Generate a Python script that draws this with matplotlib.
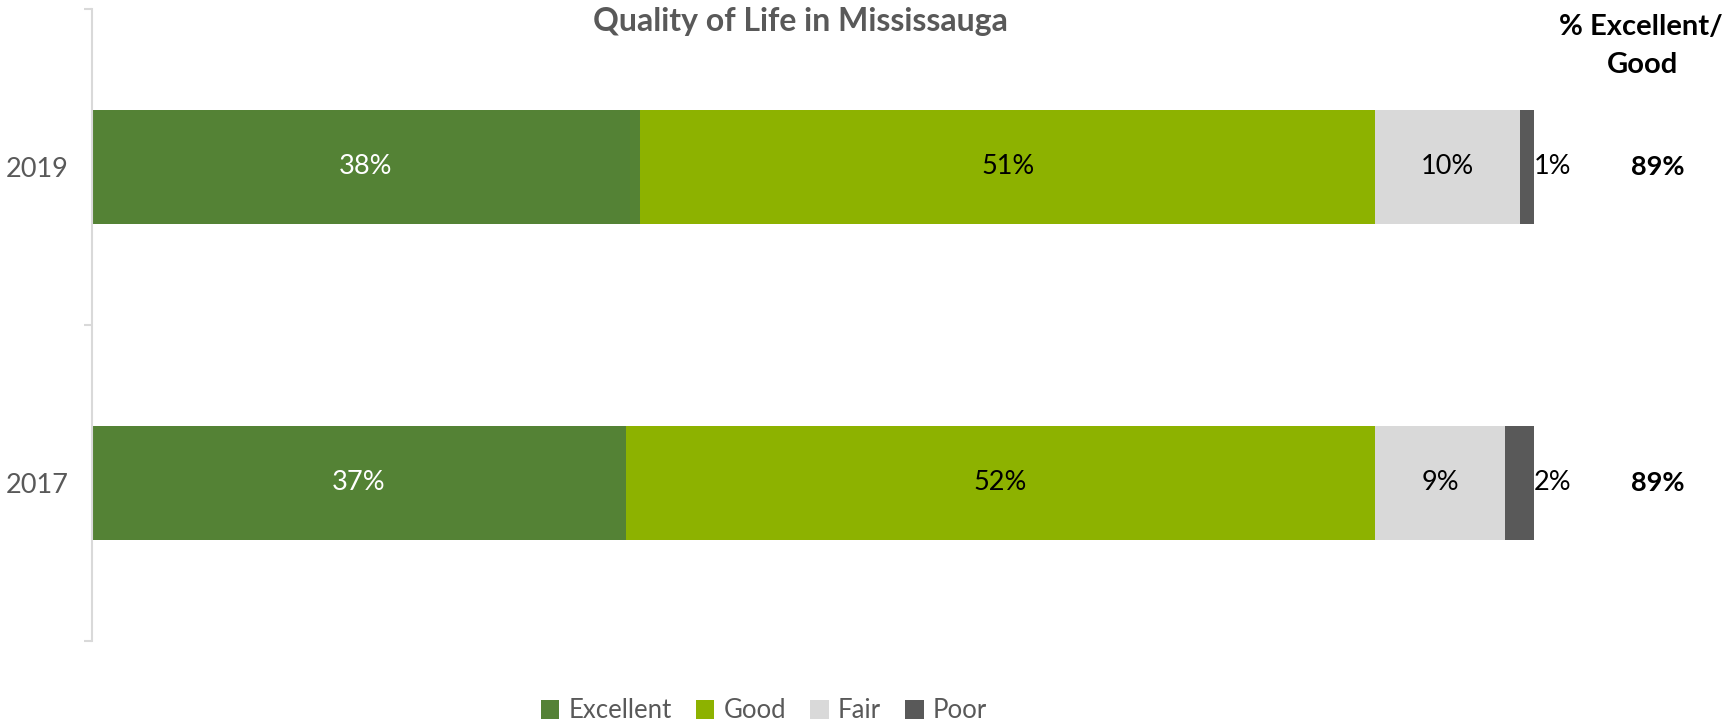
import matplotlib
matplotlib.use("Agg")
import matplotlib.pyplot as plt
import matplotlib.transforms as mtransforms
from matplotlib.patches import Patch

plt.rcParams['font.family'] = ['Lato', 'DejaVu Sans']

years = ["2017", "2019"]
categories = ["Excellent", "Good", "Fair", "Poor"]
excellent = [37, 38]
good = [52, 51]
fair = [9, 10]
poor = [2, 1]
pct_exc_good = ["89%", "89%"]
colors = ["#548235", "#8DB200", "#D9D9D9", "#595959"]
label_colors = ["white", "black", "black", "black"]

W, H = 1729, 725
fig = plt.figure(figsize=(W / 100, H / 100), dpi=100)
ax = fig.add_axes([92 / W, 84 / H, 1442 / W, 632 / H])

series = [excellent, good, fair, poor]
ypos = list(range(len(years)))
left = [0] * len(years)
FS = 19.5
for s, vals in enumerate(series):
    ax.barh(ypos, vals, left=left, height=0.36, color=colors[s],
            label=categories[s], linewidth=0)
    for i, v in enumerate(vals):
        if s == 3:
            ax.text(left[i] + v, ypos[i], f"{v}%", ha="left", va="center",
                    fontsize=FS, color="black")
        else:
            ax.text(left[i] + v / 2, ypos[i], f"{v}%", ha="center", va="center",
                    fontsize=FS, color=label_colors[s])
    left = [l + v for l, v in zip(left, vals)]

ax.set_xlim(0, 100)
ax.set_ylim(-0.5, 1.5)
ax.set_yticks(ypos)
ax.set_yticklabels(years, fontsize=FS, color="#595959")
ax.tick_params(axis="y", which="major", length=0, pad=17)
ax.set_yticks([-0.5, 0.5, 1.5], minor=True)
ax.tick_params(axis="y", which="minor", length=6, color="#D9D9D9", width=1.5)
ax.set_xticks([])
for sp in ["top", "right", "bottom"]:
    ax.spines[sp].set_visible(False)
ax.spines["left"].set_color("#D9D9D9")
ax.spines["left"].set_linewidth(1.5)

# right-hand column
trans = mtransforms.blended_transform_factory(fig.transFigure, ax.transData)
for i, t in enumerate(pct_exc_good):
    ax.text(1658 / W, ypos[i], t, transform=trans, ha="center", va="center",
            fontsize=FS, fontweight="bold", color="black", clip_on=False)

fig.text(1641 / W, 1 - 27 / H, "% Excellent/", ha="center", va="center",
         fontsize=21, fontweight="bold", color="black")
fig.text(1643 / W, 1 - 65 / H, "Good", ha="center", va="center",
         fontsize=21, fontweight="bold", color="black")

fig.text(800 / W, 1 - 21 / H, "Quality of Life in Mississauga", ha="center",
         va="center", fontsize=23, fontweight="bold", color="#595959")

handles = [Patch(facecolor=c, label=l) for c, l in zip(colors, categories)]
fig.legend(handles=handles, loc="center", bbox_to_anchor=(764 / W, 1 - 711 / H),
           ncol=4, frameon=False, fontsize=18.5, handlelength=0.72,
           handleheight=0.72, handletextpad=0.35, columnspacing=0.95,
           labelcolor="#595959", borderpad=0)

fig.savefig("out.png", dpi=100)
